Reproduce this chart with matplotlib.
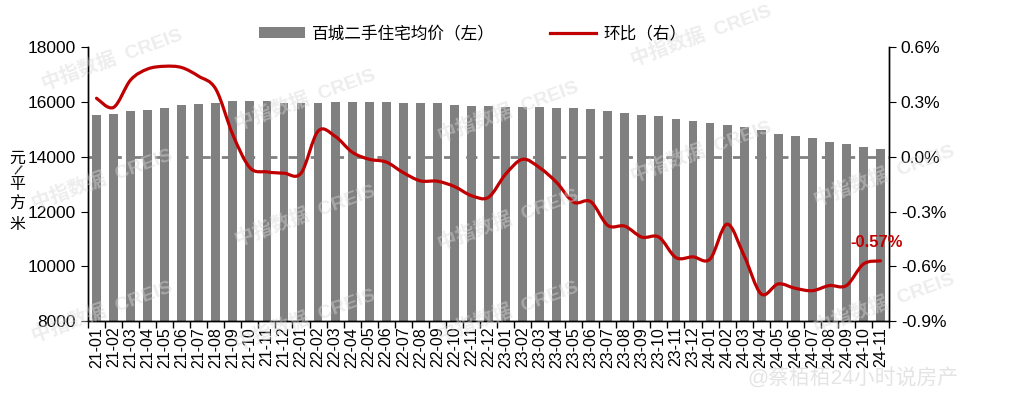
import matplotlib
matplotlib.use('Agg')
from matplotlib import pyplot as plt
from matplotlib.path import Path
from matplotlib.patches import PathPatch
import numpy as np

plt.rcParams['font.family'] = ['Liberation Sans', 'Noto Sans CJK SC']
plt.rcParams['axes.unicode_minus'] = False

# 月份
months = ['21-01', '21-02', '21-03', '21-04', '21-05', '21-06', '21-07', '21-08', '21-09', '21-10', '21-11', '21-12',
          '22-01', '22-02', '22-03', '22-04', '22-05', '22-06', '22-07', '22-08', '22-09', '22-10', '22-11', '22-12',
          '23-01', '23-02', '23-03', '23-04', '23-05', '23-06', '23-07', '23-08', '23-09', '23-10', '23-11', '23-12',
          '24-01', '24-02', '24-03', '24-04', '24-05', '24-06', '24-07', '24-08', '24-09', '24-10', '24-11']

# 百城二手住宅均价（元/平方米）
price = [15524, 15560, 15655, 15700, 15786, 15870, 15930, 15976, 16024, 16024, 16024, 15976,
         15976, 15976, 16000, 16000, 16000, 16000, 15952, 15952, 15952, 15905, 15857, 15857,
         15821, 15821, 15821, 15774, 15774, 15738, 15655, 15595, 15524, 15476, 15381, 15298,
         15215, 15155, 15072, 14988, 14846, 14762, 14691, 14548, 14453, 14370, 14286]

# 环比（%）
mom = [0.32, 0.27, 0.42, 0.48, 0.495, 0.488, 0.44, 0.37, 0.12, -0.06, -0.083, -0.09,
       -0.09, 0.14, 0.112, 0.025, -0.014, -0.029, -0.087, -0.132, -0.134, -0.163, -0.213, -0.222,
       -0.096, -0.014, -0.06, -0.141, -0.249, -0.246, -0.376, -0.38, -0.44, -0.44, -0.552, -0.548,
       -0.56, -0.369, -0.542, -0.751, -0.696, -0.72, -0.733, -0.705, -0.705, -0.587, -0.57]

bar_color = '#808080'
line_color = '#C00000'

fig = plt.figure(figsize=(10.16, 3.99), dpi=100)
ax1 = fig.add_axes([0.0866, 0.195, 0.7884, 0.687])
ax2 = ax1.twinx()

x = np.arange(len(months))
ax1.bar(x, price, width=0.52, color=bar_color, zorder=2, label='百城二手住宅均价（左）')
# 0% 参考虚线（左轴 14000 对应右轴 0.0%）
ax1.axhline(14000, color=bar_color, lw=2, ls=(0, (4, 4)), zorder=1)

ax1.set_xlim(-0.5, len(months) - 0.5)
ax1.set_ylim(8000, 18000)
ax1.set_yticks(np.arange(8000, 18001, 2000))
ax2.set_ylim(-0.9, 0.6)
ax2.set_yticks([-0.9, -0.6, -0.3, 0.0, 0.3, 0.6])
ax2.set_yticklabels(['%.1f%%' % v for v in [-0.9, -0.6, -0.3, 0.0, 0.3, 0.6]])

# 平滑折线（Excel 风格的贝塞尔平滑）
pts = np.column_stack([x, mom]).astype(float)
verts = [pts[0]]
codes = [Path.MOVETO]
n = len(pts)
for i in range(n - 1):
    p0 = pts[max(i - 1, 0)]
    p1 = pts[i]
    p2 = pts[i + 1]
    p3 = pts[min(i + 2, n - 1)]
    c1 = p1 + (p2 - p0) / 6
    c2 = p2 - (p3 - p1) / 6
    verts += [c1, c2, p2]
    codes += [Path.CURVE4] * 3
ax2.add_patch(PathPatch(Path(verts, codes), facecolor='none', edgecolor=line_color, lw=2.3,
                        capstyle='round', zorder=3))
ax2.plot([], [], color=line_color, lw=2.3, label='环比（右）')

ax2.text(45.8, -0.47, '-0.57%', color=line_color, fontsize=12, fontweight='bold',
         ha='center', va='center')

# 坐标轴样式
ax1.set_xticks(x)
ax1.set_xticklabels(months, rotation=90, fontsize=11.5)
ax1.set_xticks(np.arange(len(months) + 1) - 0.5, minor=True)
ax1.tick_params(axis='x', which='major', length=0, pad=4)
ax1.tick_params(axis='x', which='minor', length=5, width=1, direction='out')
ax1.tick_params(axis='y', labelsize=12.5, length=5, direction='out')
ax2.tick_params(axis='y', labelsize=12.5, length=5, direction='out')
for ax in (ax1, ax2):
    ax.spines['top'].set_visible(False)
    for s in ('left', 'right', 'bottom'):
        ax.spines[s].set_color('black')
        ax.spines[s].set_linewidth(1)

# 纵轴标题（竖排）
for ch, py in [('元', 158), ('/', 171), ('平', 184), ('方', 204), ('米', 224)]:
    fig.text(0.017, 1 - py / 399, ch, fontsize=11.5 if ch != '/' else 10, ha='center', va='center',
             rotation=-25 if ch == '/' else 0)

h1, l1 = ax1.get_legend_handles_labels()
h2, l2 = ax2.get_legend_handles_labels()
fig.legend(h1 + h2, l1 + l2, loc='center', bbox_to_anchor=(0.465, 0.917), ncol=2, frameon=False,
           fontsize=12, handlelength=2.8, handleheight=0.6, columnspacing=3.3, handletextpad=0.4)

# 水印
for (wx, wy) in [(0.11, 0.85), (0.30, 0.75), (0.50, 0.72), (0.69, 0.91), (0.10, 0.55), (0.30, 0.46),
                 (0.50, 0.45), (0.69, 0.62), (0.10, 0.22), (0.30, 0.2), (0.50, 0.22), (0.87, 0.56),
                 (0.87, 0.24)]:
    fig.text(wx, wy, '中指数据  CREIS', fontsize=14, fontweight='bold', color='#d8d8d8', alpha=0.45,
             rotation=20, ha='center', va='center', zorder=0)
fig.text(0.84, 0.055, '@蔡栢栢24小时说房产', fontsize=15, color='#e4e4e4', ha='center', va='center',
         zorder=5)

fig.savefig('out.png', dpi=100)
